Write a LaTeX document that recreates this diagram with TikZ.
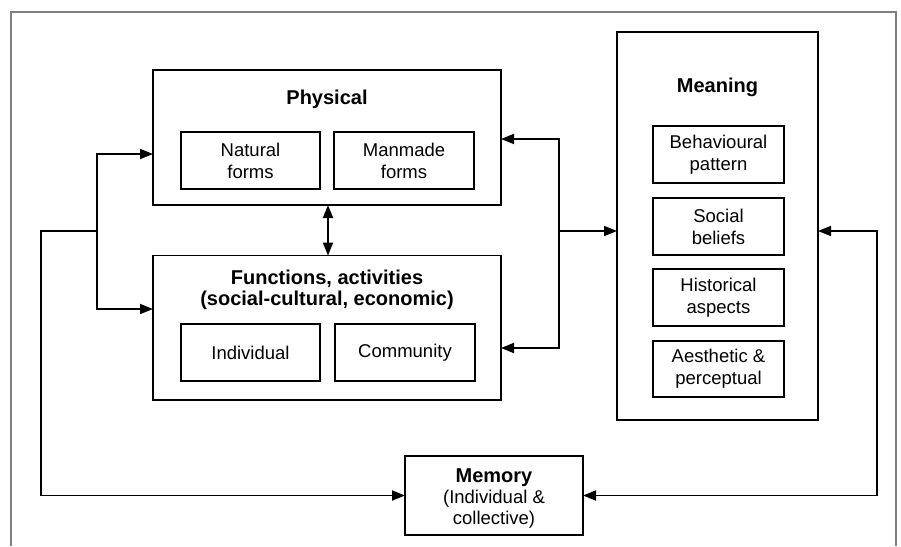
\documentclass[tikz,border=0pt]{standalone}
\usepackage{fontspec}
\setmainfont{Liberation Sans}
\usetikzlibrary{arrows.meta}
\tikzset{
  box/.style={draw=black, line width=1.8pt, inner sep=0pt, outer sep=0pt},
  sub/.style={box, align=center, font=\fontsize{18.5}{22}\selectfont},
  ttl/.style={font=\fontsize{20}{22}\bfseries\selectfont, inner sep=0pt, anchor=base},
  txt/.style={font=\fontsize{18.5}{22}\selectfont, inner sep=0pt, anchor=base},
  tip/.style={Triangle[length=13pt,width=10pt]},
  conn/.style={draw=black, line width=1.8pt, -{Triangle[length=13pt,width=10pt]}},
  conn2/.style={draw=black, line width=1.8pt, {Triangle[length=13pt,width=10pt]}-{Triangle[length=13pt,width=10pt]}},
}
\begin{document}
\begin{tikzpicture}[x=1pt,y=-1pt]
\useasboundingbox (0,0) rectangle (901,546);
% outer frame
\draw[gray, line width=1.5pt] (11,546) -- (11,12) -- (896,12) -- (896,546);

% main boxes
\node[box, minimum width=348pt, minimum height=135pt] (phys) at (327,137.5) {};
\node[box, minimum width=348pt, minimum height=144.5pt] (func) at (327,327.75) {};
\node[box, minimum width=201pt, minimum height=388pt] (mean) at (717.5,226) {};
\node[box, minimum width=178pt, minimum height=79pt] (mem) at (494,495.5) {};

% titles
\node[ttl] (physT) at (327,104) {Physical};
\node[ttl] (meanT) at (717.5,92) {Meaning};
\node[ttl] (funcT1) at (327,284) {Functions, activities};
\node[ttl] (funcT2) at (327,305) {(social-cultural, economic)};
\node[ttl] (memT) at (494,482) {Memory};
\node[txt] (memS1) at (494,503) {(Individual \&};
\node[txt] (memS2) at (494,524) {collective)};

% inner boxes
\node[sub, minimum width=139pt, minimum height=57pt] (nat) at (250.5,160.5) {Natural\\forms};
\node[sub, minimum width=140pt, minimum height=57pt] (man) at (404,160.5) {Manmade\\forms};
\node[sub, minimum width=139pt, minimum height=57pt] (ind) at (250.5,352.5) {Individual};
\node[sub, minimum width=140pt, minimum height=57pt] (com) at (405,352.5) {Community};

\node[sub, minimum width=131pt, minimum height=57pt] (beh) at (718.5,154.5) {Behavioural\\pattern};
\node[sub, minimum width=131pt, minimum height=57pt] (soc) at (718.5,226.5) {Social\\beliefs};
\node[sub, minimum width=131pt, minimum height=57pt] (his) at (718.5,297.5) {Historical\\aspects};
\node[sub, minimum width=131pt, minimum height=56pt] (aes) at (718.5,369) {Aesthetic \&\\perceptual};

% junction coordinates
\coordinate (jl) at (97,231);
\coordinate (jr) at (559,231);
\coordinate (pl) at (153,154);
\coordinate (fl) at (153,309);
\coordinate (pr) at (501,139);
\coordinate (fr) at (501,348);
\coordinate (ll) at (41,231);
\coordinate (rr) at (877,231);

% left connectors
\draw[conn] (jl) |- (phys.west |- pl);
\draw[conn] (jl) |- (func.west |- fl);
\draw[conn] (jl) -- (ll) |- (mem.west);

% right connectors
\draw[conn] (jr) |- (phys.east |- pr);
\draw[conn] (jr) |- (func.east |- fr);
\draw[conn] (jr) -- (mean.west |- jr);
\draw[conn2] (mean.east |- rr) -- (rr) |- (mem.east);

% physical <-> functions
\draw[conn2] (phys.south -| 328,0) -- (func.north -| 328,0);
\end{tikzpicture}
\end{document}
